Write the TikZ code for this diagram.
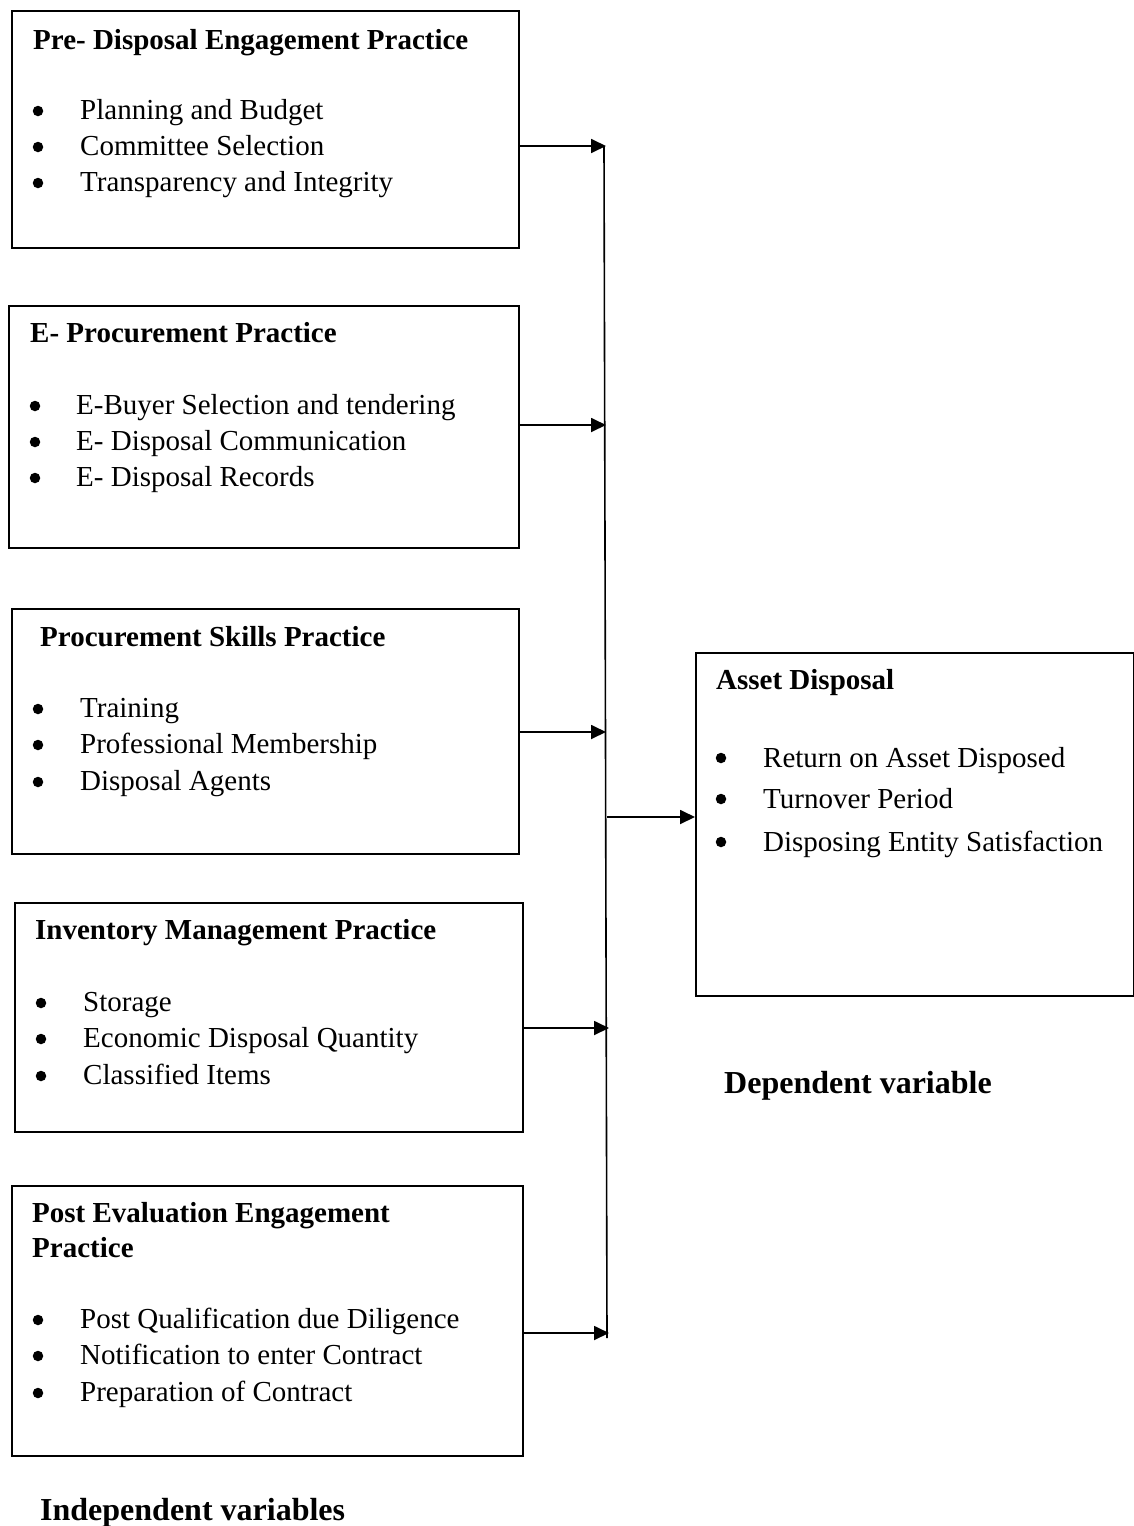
\documentclass[tikz,border=0pt]{standalone}
\usepackage{fontspec}
\setmainfont{Liberation Serif}
\usetikzlibrary{arrows.meta}
\tikzset{
  varbox/.style={draw,line width=1.6pt,anchor=north west,inner sep=0pt},
  boxtitle/.style={anchor=base west,inner sep=0pt,font=\fontsize{29}{35}\selectfont\bfseries},
  boxitem/.style={anchor=base west,inner sep=0pt,font=\fontsize{29}{35}\selectfont},
  itemdot/.style={circle,fill,inner sep=0pt,minimum size=10.5pt},
  caption/.style={anchor=base west,inner sep=0pt,font=\fontsize{32}{38}\selectfont\bfseries},
  feed/.style={line width=1.8pt,-{Triangle[length=15pt,width=14pt]}},
}
\begin{document}
\begin{tikzpicture}[x=1pt,y=-1pt]
\useasboundingbox (0,0) rectangle (1134,1526);

%Boxes
\node[varbox,minimum width=507pt,minimum height=237pt] (pre) at (11,10) {};
\node[varbox,minimum width=510pt,minimum height=242pt] (eproc) at (8,305) {};
\node[varbox,minimum width=507pt,minimum height=245pt] (skills) at (11,608) {};
\node[varbox,minimum width=508pt,minimum height=229pt] (inv) at (14,902) {};
\node[varbox,minimum width=511pt,minimum height=270pt] (post) at (11,1185) {};
\node[varbox,minimum width=438pt,minimum height=343pt] (asset) at (695,652) {};

% Titles
\node[boxtitle] (preT) at (33,49) {Pre- Disposal Engagement Practice};
\node[boxtitle] (eprocT) at (30,342) {E- Procurement Practice};
\node[boxtitle] (skillsT) at (40,646) {Procurement Skills Practice};
\node[boxtitle] (invT) at (35,939) {Inventory Management Practice};
\node[boxtitle] (postT) at (32,1222) {Post Evaluation Engagement};
\node[boxtitle] (postT2) at (32,1257) {Practice};
\node[boxtitle] (assetT) at (716,689) {Asset Disposal};

% Bullet lists
\foreach \y/\t in {110/Planning and Budget,146/Committee Selection,182/Transparency and Integrity}{
  \node[itemdot] at (38,\y+1) {};
  \node[boxitem] at (80,\y+9) {\t};
}
\foreach \y/\t in {405/E-Buyer Selection and tendering,441/E- Disposal Communication,477/E- Disposal Records}{
  \node[itemdot] at (35,\y+1) {};
  \node[boxitem] at (76,\y+9) {\t};
}
\foreach \y/\t in {708/Training,744/Professional Membership,781/Disposal Agents}{
  \node[itemdot] at (38,\y+1) {};
  \node[boxitem] at (80,\y+9) {\t};
}
\foreach \y/\t in {1002/Storage,1038/Economic Disposal Quantity,1075/Classified Items}{
  \node[itemdot] at (41,\y+1) {};
  \node[boxitem] at (83,\y+9) {\t};
}
\foreach \y/\t in {1319/Post Qualification due Diligence,1355/Notification to enter Contract,1392/Preparation of Contract}{
  \node[itemdot] at (38,\y+1) {};
  \node[boxitem] at (80,\y+9) {\t};
}
\foreach \y/\t in {757/Return on Asset Disposed,798/Turnover Period,841/Disposing Entity Satisfaction}{
  \node[itemdot] at (721,\y+1) {};
  \node[boxitem] at (763,\y+10) {\t};
}

% Captions
\node[caption] (dep) at (724,1093) {Dependent variable};
\node[caption] (indep) at (40,1520) {Independent variables};

% Bus line
\coordinate (b1) at (606,146);
\coordinate (b2) at (606,425);
\coordinate (b3) at (606,732);
\coordinate (b4) at (609,1028);
\coordinate (b5) at (609,1333);
\coordinate (bm) at (607,817);
\draw[line width=1.6pt] (604,146) -- (607,1338);

% Arrows
\draw[feed] (pre.east |- b1) -- (b1);
\draw[feed] (eproc.east |- b2) -- (b2);
\draw[feed] (skills.east |- b3) -- (b3);
\draw[feed] (inv.east |- b4) -- (b4);
\draw[feed] (post.east |- b5) -- (b5);
\draw[feed] (bm) -- (asset.west |- bm);
\end{tikzpicture}
\end{document}
